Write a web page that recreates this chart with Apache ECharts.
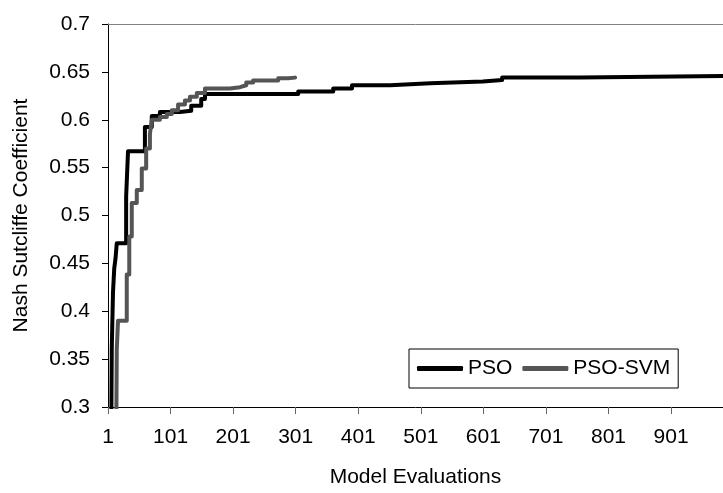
<!DOCTYPE html>
<html>
<head>
<meta charset="utf-8">
<script src="https://cdn.jsdelivr.net/npm/echarts@6/dist/echarts.min.js"></script>
<style>
  html, body { margin: 0; padding: 0; background: #fff; }
  #chart { width: 723px; height: 493px; }
</style>
</head>
<body>
<div id="chart"></div>
<script>
// Model evaluation at which the best-so-far value changes, and the new value
var psoEval = [6, 7, 9, 11, 13, 15, 30, 33, 60, 71, 84, 116, 134, 150, 156, 305, 361, 391, 452, 516, 600, 631, 755, 984];
var psoNSC  = [0.25, 0.36, 0.42, 0.445, 0.455, 0.471, 0.52, 0.567, 0.5925, 0.604, 0.608, 0.6095, 0.6146, 0.6216, 0.627, 0.6295, 0.6327, 0.636, 0.638, 0.640, 0.6416, 0.644, 0.6457, 0.6457];

var svmEval = [14, 15, 17, 31, 35, 39, 47, 55, 62, 68, 71, 84, 95, 103, 113, 124, 132, 143, 156, 196, 212, 222, 233, 273, 289, 300];
var svmNSC  = [0.25, 0.36, 0.39, 0.4385, 0.478, 0.513, 0.5266, 0.549, 0.57, 0.585, 0.600, 0.603, 0.606, 0.610, 0.616, 0.620, 0.624, 0.628, 0.6327, 0.634, 0.636, 0.6389, 0.641, 0.6433, 0.644, 0.644];

var seriesNames = ['PSO', 'PSO-SVM'];
var xTickStep = 100;   // tick labels 1, 101, 201, ... 901
var xLastTickLabel = 901;

function pairs(ev, vals) {
  return ev.map(function (e, i) { return [e - 1, vals[i]]; });
}

var FONT = "'Liberation Sans', Arial, sans-serif";
var chart = echarts.init(document.getElementById('chart'), null, { renderer: 'canvas' });

chart.setOption({
  animation: false,
  backgroundColor: '#ffffff',
  textStyle: { fontFamily: FONT, color: '#000' },
  grid: { left: 108, right: 0, top: 24, bottom: 82.5, containLabel: false },
  legend: {
    data: seriesNames,
    left: 409, top: 349,
    orient: 'horizontal',
    padding: [9, 8, 9, 8],
    itemGap: 10,
    itemWidth: 46,
    itemHeight: 5,
    icon: 'roundRect',
    borderColor: '#000',
    borderWidth: 1,
    backgroundColor: '#fff',
    textStyle: { fontFamily: FONT, fontSize: 21, color: '#000' }
  },
  xAxis: [{
    type: 'value',
    position: 'bottom',
    min: 0, max: 983, interval: xTickStep,
    name: 'Model Evaluations',
    nameLocation: 'middle',
    nameGap: 60,
    nameTextStyle: { fontFamily: FONT, fontSize: 21, color: '#000' },
    axisLine: { show: true, onZero: false, lineStyle: { color: '#000', width: 1 } },
    axisTick: { show: true, length: 7, lineStyle: { color: '#666' } },
    axisLabel: {
      fontFamily: FONT, fontSize: 21, color: '#000', margin: 20,
      showMaxLabel: false,
      formatter: function (v) { return (v + 1) <= xLastTickLabel ? String(v + 1) : ''; }
    },
    splitLine: { show: false }
  }, {
    type: 'value',
    position: 'top',
    min: 0, max: 983,
    axisLine: { show: true, onZero: false, lineStyle: { color: '#808080', width: 1 } },
    axisTick: { show: false },
    axisLabel: { show: false },
    splitLine: { show: false }
  }],
  yAxis: {
    type: 'value',
    min: 0.3, max: 0.7, interval: 0.05,
    name: 'Nash Sutcliffe Coefficient',
    nameLocation: 'middle',
    nameGap: 76,
    nameTextStyle: { fontFamily: FONT, fontSize: 21, color: '#000' },
    axisLine: { show: true, onZero: false, lineStyle: { color: '#000', width: 1 } },
    axisTick: { show: true, length: 6, lineStyle: { color: '#000' } },
    axisLabel: {
      fontFamily: FONT, fontSize: 21, color: '#000', margin: 18,
      formatter: function (v) { return String(+v.toFixed(2)); }
    },
    splitLine: { show: false }
  },
  series: [{
    name: seriesNames[0],
    type: 'line',
    step: 'end',
    symbol: 'none',
    clip: true,
    data: pairs(psoEval, psoNSC),
    color: '#000000',
    lineStyle: { color: '#000000', width: 4, cap: 'round', join: 'round' },
    itemStyle: { color: '#000000' },
    z: 2
  }, {
    name: seriesNames[1],
    type: 'line',
    step: 'end',
    symbol: 'none',
    clip: true,
    data: pairs(svmEval, svmNSC),
    color: '#555555',
    lineStyle: { color: '#555555', width: 4, cap: 'round', join: 'round' },
    itemStyle: { color: '#555555' },
    z: 3
  }]
});
</script>
</body>
</html>
